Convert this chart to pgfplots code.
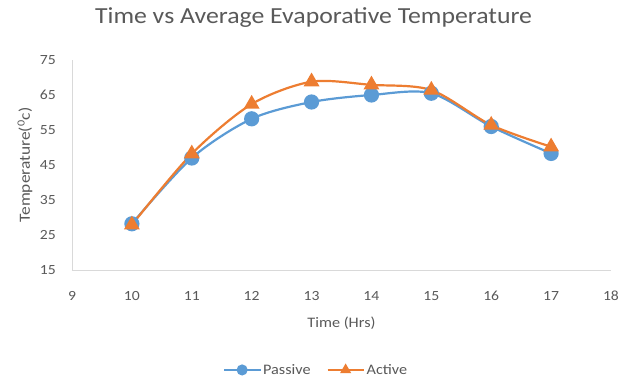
\documentclass[border=0pt]{standalone}
\usepackage{pgfplots}
\pgfplotsset{compat=1.18}
\usepackage{fontspec}
\setmainfont{Carlito}[FakeStretch=1.12]
\definecolor{pblue}{HTML}{5B9BD5}
\definecolor{porange}{HTML}{ED7D31}
\definecolor{txt}{HTML}{595959}
\definecolor{axl}{HTML}{D9D9D9}
\begin{document}
\begin{tikzpicture}[x=1pt,y=1pt]
\useasboundingbox (0,0) rectangle (640,383);
\node[font=\fontsize{23}{26}\selectfont, text=txt] at (313.5,365) {Time vs Average Evaporative Temperature};
\begin{axis}[
  at={(72pt,113pt)}, anchor=south west,
  scale only axis, width=539pt, height=210pt,
  xmin=9, xmax=18, ymin=15, ymax=75,
  xtick={9,...,18}, ytick={15,25,...,75},
  axis x line*=bottom, axis y line*=left,
  axis line style={axl, line width=0.8pt, -},
  major tick length=0pt,
  tick label style={font=\fontsize{14}{16}\selectfont, text=txt},
  /pgf/number format/assume math mode=true,
  xticklabel style={anchor=center, yshift=-26pt},
  yticklabel style={anchor=east, inner sep=0pt, xshift=-16pt},
  xlabel={Time (Hrs)}, ylabel={Temperature(\textsuperscript{0}c)},
  label style={font=\fontsize{14.5}{16}\selectfont, text=txt},
  xlabel style={at={(axis description cs:0.5,0)}, anchor=center, yshift=-53pt},
  ylabel style={at={(axis description cs:0,0.5)}, anchor=center, yshift=47pt, font=\fontsize{15.5}{17}\selectfont},
  legend style={at={(axis description cs:0.453,-0.476)}, anchor=center, draw=none, font=\fontsize{14.5}{16}\selectfont, text=txt, legend columns=2, /tikz/every even column/.append style={column sep=14pt}, inner sep=0pt},
  legend image code/.code={\draw[#1, line width=2pt, mark size=4.5pt, mark repeat=2, mark phase=2] plot coordinates {(0pt,0pt) (18pt,0pt) (36pt,0pt)};},
]
\addplot[pblue, line width=2.2pt, smooth, tension=0.5, mark=*, mark size=6.5pt, mark options={solid, fill=pblue, draw=pblue}]
coordinates {(10,28.2) (11,47.0) (12,58.2) (13,63.0) (14,65.0) (15,65.5) (16,56.0) (17,48.3)};
\addlegendentry{Passive}
\addplot[porange, line width=2.2pt, smooth, tension=0.5, mark=triangle*, mark size=7pt, mark options={solid, fill=porange, draw=porange}]
coordinates {(10,27.9) (11,48.2) (12,62.4) (13,68.8) (14,67.9) (15,66.4) (16,56.4) (17,50.2)};
\addlegendentry{Active}
\end{axis}
\end{tikzpicture}
\end{document}
